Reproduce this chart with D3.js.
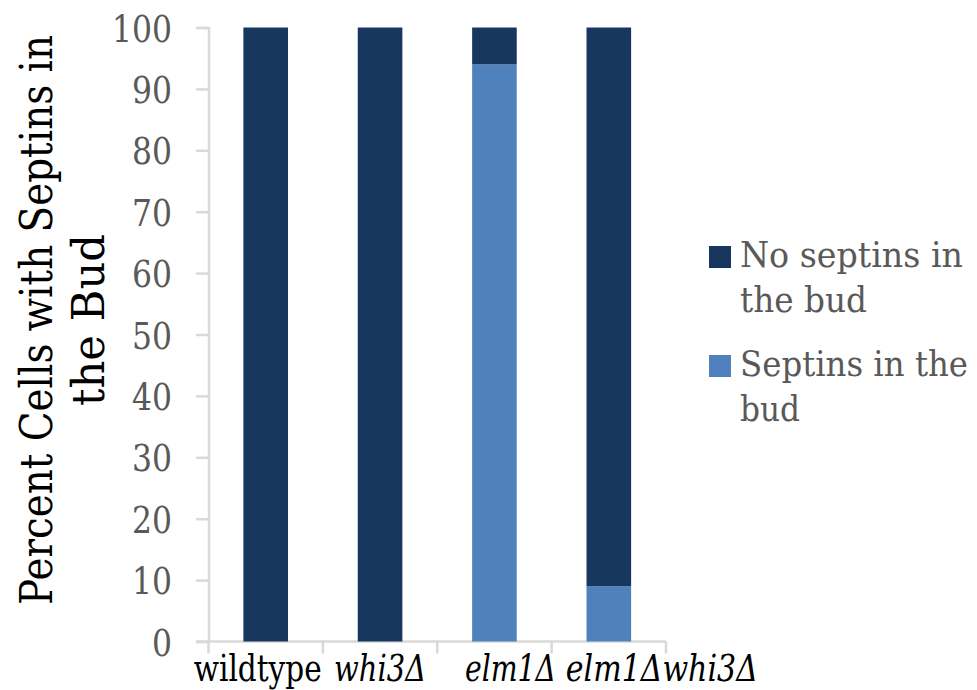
<!DOCTYPE html>
<html>
<head>
<meta charset="utf-8">
<script src="https://cdn.jsdelivr.net/npm/d3@7"></script>
<style>
  html, body { margin: 0; padding: 0; background: #fff; }
  svg { display: block; }
  svg text { font-family: "DejaVu Serif", serif; }
</style>
</head>
<body>
<svg id="chart" width="977" height="690"></svg>
<script>
// Strains on the x axis
const strains = ["wildtype", "whi3Δ", "elm1Δ", "elm1Δwhi3Δ"];
const italicStrain = [false, true, true, true];
// Percent of cells, by series
const septinsInBud = [0, 0, 94, 9];
const noSeptinsInBud = [100, 100, 6, 91];
// Series names (legend order) and y ticks
const seriesNames = ["No septins in the bud", "Septins in the bud"];
const yTicks = [0, 10, 20, 30, 40, 50, 60, 70, 80, 90, 100];

// Layout
const plot = { left: 208.5, right: 666, top: 27.5, bottom: 641.5 };
const labelShift = [-8, 0, 16, 53];
const labelWidth = [128, 92, 91, 192];
const colors = { "Septins in the bud": "#4f81bd", "No septins in the bud": "#17375e" };
const serif = "'DejaVu Serif', serif";

const svg = d3.select("#chart");

const x = d3.scaleBand().domain(strains).range([plot.left, plot.right]).paddingInner(0.61).paddingOuter(0.305);
const y = d3.scaleLinear().domain([0, 100]).range([plot.bottom, plot.top]);

// Stack: light series at the bottom, dark on top
const rows = strains.map((s, i) => ({
  strain: s,
  "Septins in the bud": septinsInBud[i],
  "No septins in the bud": noSeptinsInBud[i]
}));
const stack = d3.stack().keys(["Septins in the bud", "No septins in the bud"])(rows);

// Axes
const axisColor = "#d9d9d9";
const yAxis = svg.append("g").attr("transform", `translate(${plot.left},0)`)
  .call(d3.axisLeft(y).tickValues(yTicks).tickSize(12.5).tickPadding(24));
yAxis.attr("font-family", serif);
yAxis.select(".domain").attr("stroke", axisColor).attr("stroke-width", 2.5);
yAxis.selectAll(".tick line").attr("stroke", axisColor).attr("stroke-width", 2.5);
yAxis.selectAll(".tick text")
  .attr("fill", "#595959").attr("font-size", 38)
  .attr("dy", "0.36em")
  .attr("textLength", d => String(d).length * 20)
  .attr("lengthAdjust", "spacingAndGlyphs");

// x axis line with band separators
const xAxisG = svg.append("g");
xAxisG.append("line")
  .attr("x1", plot.left - 12.5).attr("x2", plot.right)
  .attr("y1", plot.bottom).attr("y2", plot.bottom)
  .attr("stroke", axisColor).attr("stroke-width", 2.5);
const step = x.step();
const edges = d3.range(strains.length + 1).map(i => plot.left + i * step);
xAxisG.selectAll("line.sep").data(edges).join("line")
  .attr("class", "sep")
  .attr("x1", d => d).attr("x2", d => d)
  .attr("y1", plot.bottom).attr("y2", plot.bottom + 12)
  .attr("stroke", axisColor).attr("stroke-width", 2.5);

// Bars
svg.append("g").selectAll("g").data(stack).join("g")
  .attr("fill", d => colors[d.key])
  .selectAll("rect").data(d => d).join("rect")
  .attr("x", d => x(d.data.strain))
  .attr("width", x.bandwidth())
  .attr("y", d => y(d[1]))
  .attr("height", d => y(d[0]) - y(d[1]));

// Category labels
svg.append("g").selectAll("text").data(strains).join("text")
  .attr("x", (d, i) => x(d) + x.bandwidth() / 2 + labelShift[i])
  .attr("y", 681)
  .attr("text-anchor", "middle")
  .attr("font-size", 37)
  .attr("font-style", (d, i) => italicStrain[i] ? "italic" : "normal")
  .attr("textLength", (d, i) => labelWidth[i])
  .attr("lengthAdjust", "spacingAndGlyphs")
  .attr("fill", "#000")
  .text(d => d);

// Y axis title, two lines
const title = svg.append("text")
  .attr("transform", "translate(52,320) rotate(-90)")
  .attr("text-anchor", "middle")
  .attr("font-size", 44)
  .attr("fill", "#000");
title.append("tspan").attr("x", 0).attr("y", 0)
  .attr("textLength", 570).attr("lengthAdjust", "spacingAndGlyphs")
  .text("Percent Cells with Septins in");
title.append("tspan").attr("x", 0).attr("y", 52)
  .attr("textLength", 172).attr("lengthAdjust", "spacingAndGlyphs")
  .text("the Bud");

// Legend
const legendItems = [
  { name: seriesNames[0], lines: ["No septins in", "the bud"], widths: [223, 127], top: 246 },
  { name: seriesNames[1], lines: ["Septins in the", "bud"], widths: [228, 60], top: 355 }
];
const lg = svg.append("g").selectAll("g").data(legendItems).join("g");
lg.append("rect")
  .attr("x", 709).attr("y", d => d.top)
  .attr("width", 22).attr("height", 22)
  .attr("fill", d => colors[d.name]);
lg.append("text")
  .attr("font-size", 36).attr("fill", "#595959")
  .selectAll("tspan").data(d => d.lines.map((l, j) => ({ l, j, w: d.widths[j], top: d.top }))).join("tspan")
  .attr("x", 740).attr("y", d => d.top + 21 + d.j * 45)
  .attr("textLength", d => d.w).attr("lengthAdjust", "spacingAndGlyphs")
  .text(d => d.l);
</script>
</body>
</html>
